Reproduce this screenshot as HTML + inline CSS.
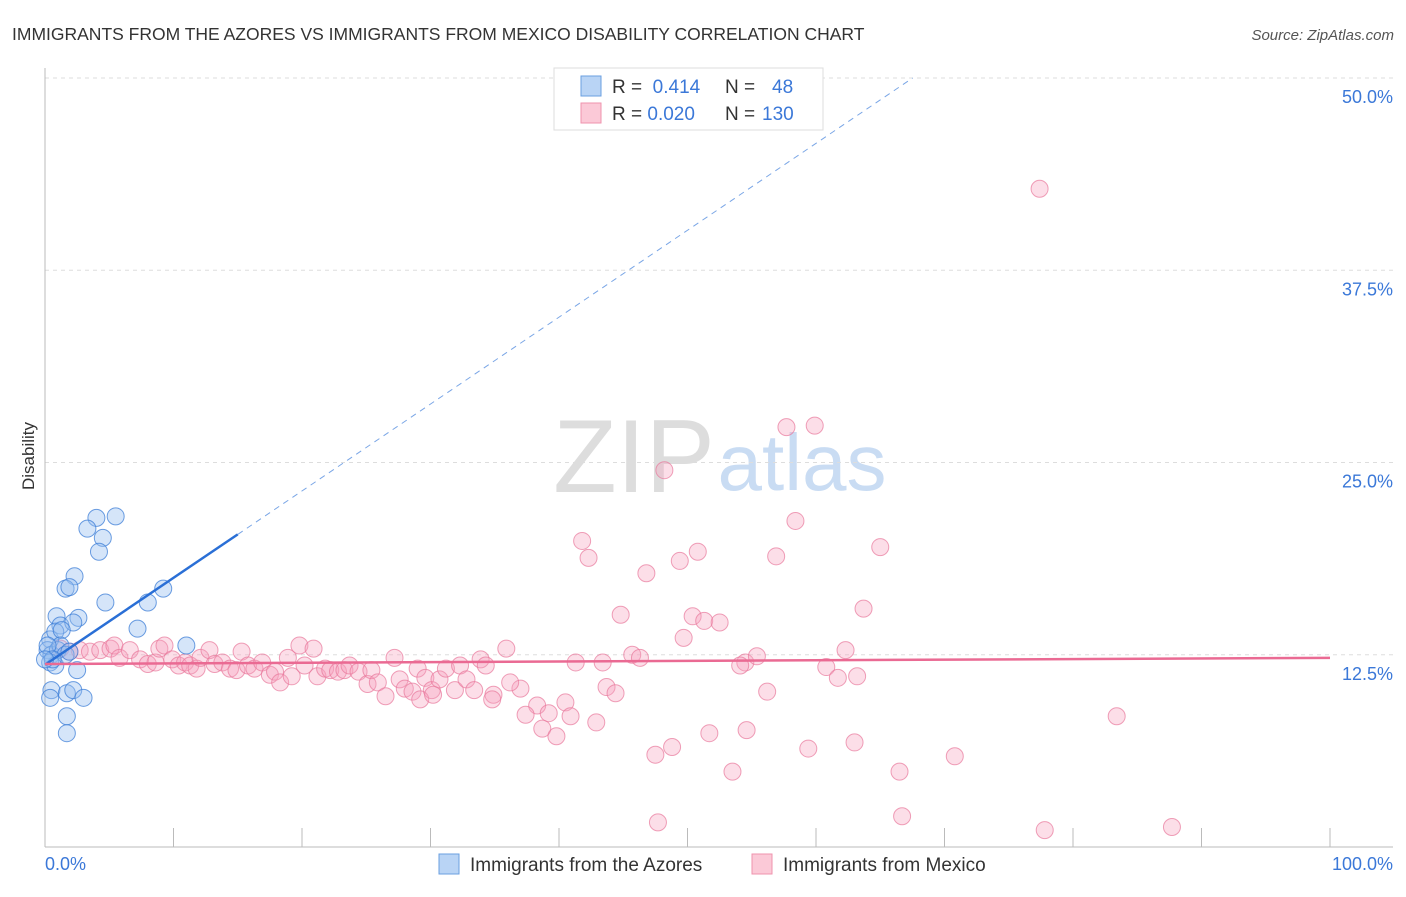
<!DOCTYPE html>
<html><head><meta charset="utf-8"><style>
body{margin:0;background:#fff;font-family:"Liberation Sans",sans-serif;}
svg text{font-family:"Liberation Sans",sans-serif;}
</style></head><body>
<svg id="chart" width="1406" height="892" xmlns="http://www.w3.org/2000/svg">
<text x="12" y="40" font-size="17.5" fill="#333">IMMIGRANTS FROM THE AZORES VS IMMIGRANTS FROM MEXICO DISABILITY CORRELATION CHART</text>
<text x="1394" y="40" font-size="15" fill="#555" text-anchor="end" font-style="italic">Source: ZipAtlas.com</text>
<text x="34" y="456" font-size="17" fill="#333" text-anchor="middle" transform="rotate(-90 34 456)">Disability</text>
<g><text x="634" y="492" font-size="104" fill="#ddd" font-family="Liberation Serif" text-anchor="middle">ZIP</text><text x="802" y="490" font-size="80" fill="#c9dcf3" text-anchor="middle">atlas</text></g>
<g id="grid"></g><g id="axes"></g><g id="pts"></g><g id="lines"></g>
<g>
<rect x="554" y="68" width="269" height="62" fill="#fff" stroke="#ddd"/>
<rect x="581" y="76" width="20" height="20" fill="#b9d4f5" stroke="#6a9fe0"/>
<rect x="581" y="103" width="20" height="20" fill="#fbc9d7" stroke="#ef93ae"/>
<text x="612" y="93" font-size="19" fill="#333">R = <tspan fill="#3b78d8">&#160;0.414</tspan><tspan x="725">N = </tspan><tspan x="772" fill="#3b78d8">48</tspan></text>
<text x="612" y="120" font-size="19" fill="#333">R = <tspan fill="#3b78d8">0.020</tspan><tspan x="725">N = </tspan><tspan x="762" fill="#3b78d8">130</tspan></text>
</g>
<g>
<rect x="439" y="854" width="20" height="20" fill="#b9d4f5" stroke="#6a9fe0"/>
<text x="470" y="871" font-size="19" fill="#333">Immigrants from the Azores</text>
<rect x="752" y="854" width="20" height="20" fill="#fbc9d7" stroke="#ef93ae"/>
<text x="783" y="871" font-size="19" fill="#333">Immigrants from Mexico</text>
</g>
<text x="45" y="870" font-size="18" fill="#3b78d8">0.0%</text>
<text x="1393" y="870" font-size="18" fill="#3b78d8" text-anchor="end">100.0%</text>
</svg>
<script>
const yTicks=[12.5,25,37.5,50];
const yTickLabels=["12.5%","25.0%","37.5%","50.0%"];
const xTicks=[0,10,20,30,40,50,60,70,80,90,100];
const azoresX=[4.0,5.5,3.3,4.5,4.2,2.3,1.6,1.9,4.7,8.0,9.2,0.9,2.6,1.2,2.2,7.2,11.0,0.4,0.8,1.3,0.2,0.5,1.0,0.4,0.8,2.5,0.5,1.7,2.2,3.0,0.4,1.7,1.7,1.2,1.6,1.9,0.2,0.6,0];
const azoresY=[21.4,21.5,20.7,20.1,19.2,17.6,16.8,16.9,15.9,15.9,16.8,15.0,14.9,14.4,14.6,14.2,13.1,13.5,14.0,14.1,12.8,12.5,12.8,12.0,11.8,11.5,10.2,10.0,10.2,9.7,9.7,8.5,7.4,13.1,12.5,12.7,13.1,12.2,12.2];
const mexicoX=[77.4,57.7,59.9,48.2,58.4,41.8,42.3,50.8,49.4,56.9,65.0,46.8,63.7,44.8,50.4,51.3,52.5,49.7,35.9,45.7,46.3,41.3,43.4,54.5,55.4,54.1,60.8,61.7,63.2,62.3,56.2,43.7,44.4,37.0,36.2,34.9,34.8,40.5,38.3,37.4,39.2,40.9,42.9,38.7,39.8,83.4,54.6,51.7,63.0,59.4,48.8,47.5,70.8,53.5,66.5,47.7,66.7,77.8,87.7,
1.2,1.9,2.7,3.5,4.3,5.1,5.4,5.8,6.6,7.4,8.0,8.6,8.9,9.3,9.9,10.4,10.9,11.3,11.8,12.1,12.8,13.2,13.8,14.4,14.9,15.3,15.8,16.3,16.9,17.5,17.9,18.3,18.9,19.2,19.8,20.2,20.9,21.2,21.8,22.2,22.8,23.3,23.7,24.4,25.1,25.4,25.9,26.5,27.2,27.6,28.0,28.6,29.0,29.6,30.1,30.7,31.2,31.9,32.3,32.8,33.4,33.9,34.3,29.2,30.2];
const mexicoY=[42.8,27.3,27.4,24.5,21.2,19.9,18.8,19.2,18.6,18.9,19.5,17.8,15.5,15.1,15.0,14.7,14.6,13.6,12.9,12.5,12.3,12.0,12.0,12.0,12.4,11.8,11.7,11.0,11.1,12.8,10.1,10.4,10.0,10.3,10.7,9.9,9.6,9.4,9.2,8.6,8.7,8.5,8.1,7.7,7.2,8.5,7.6,7.4,6.8,6.4,6.5,6.0,5.9,4.9,4.9,1.6,2.0,1.1,1.3,
12.9,12.7,12.8,12.7,12.8,12.9,13.1,12.3,12.8,12.2,11.9,12.0,12.9,13.1,12.2,11.8,12.0,11.8,11.6,12.3,12.8,11.9,12.0,11.6,11.5,12.7,11.8,11.6,12.0,11.2,11.4,10.7,12.3,11.1,13.1,11.8,12.9,11.1,11.6,11.5,11.4,11.5,11.8,11.4,10.6,11.5,10.7,9.8,12.3,10.9,10.3,10.1,11.6,11.0,10.2,10.9,11.6,10.2,11.8,10.9,10.2,12.2,11.8,9.6,9.9];
const azoresTrend=[11.85,0.565];
const mexicoTrend=[11.9,0.004];
const NS="http://www.w3.org/2000/svg";
const sx=v=>45+v*12.85, sy=v=>847-v*15.38;
function mk(t,a,p){const e=document.createElementNS(NS,t);for(const k in a)e.setAttribute(k,a[k]);document.getElementById(p).appendChild(e);return e;}
yTicks.forEach((t,i)=>{
 const g=mk('line',{x1:45,x2:1393,y1:sy(t),y2:sy(t),stroke:'#ddd','stroke-dasharray':'4,4'},'grid');
 
 
 const l=mk('text',{x:1393,y:sy(t)+25,'font-size':18,fill:'#3b78d8','text-anchor':'end'},'grid');
 l.textContent=yTickLabels[i];
 
 
});
const ya=mk('line',{x1:45,x2:45,y1:68,y2:847,stroke:'#bbb'},'axes');


const xa=mk('line',{x1:45,x2:1393,y1:847,y2:847,stroke:'#bbb'},'axes');


xTicks.forEach(t=>{const k=mk('line',{x1:sx(t),x2:sx(t),y1:828,y2:847,stroke:'#bbb'},'axes');
 
 });
mexicoX.forEach((x,i)=>{const c=mk('circle',{cx:sx(x),cy:sy(mexicoY[i]),r:8.5,fill:'rgba(245,160,188,0.35)',stroke:'rgba(232,120,155,0.7)','stroke-width':1},'pts');
 
 });
azoresX.forEach((x,i)=>{const c=mk('circle',{cx:sx(x),cy:sy(azoresY[i]),r:8.5,fill:'rgba(150,190,240,0.4)',stroke:'rgba(60,125,215,0.75)','stroke-width':1},'pts');
 
 });
const f=(tr,x)=>tr[0]+tr[1]*x;
const xEnd=(50-azoresTrend[0])/azoresTrend[1];
let l1=mk('line',{x1:sx(0),y1:sy(f(azoresTrend,0)),x2:sx(15),y2:sy(f(azoresTrend,15)),stroke:'#2a6fd6','stroke-width':2.5},'lines');


let l2=mk('line',{x1:sx(15),y1:sy(f(azoresTrend,15)),x2:sx(xEnd),y2:sy(f(azoresTrend,xEnd)),stroke:'#7aa6e6','stroke-width':1,'stroke-dasharray':'6,5'},'lines');


let l3=mk('line',{x1:sx(0),y1:sy(f(mexicoTrend,0)),x2:sx(100),y2:sy(f(mexicoTrend,100)),stroke:'#ea6a93','stroke-width':2.5},'lines');


</script>
</body></html>
